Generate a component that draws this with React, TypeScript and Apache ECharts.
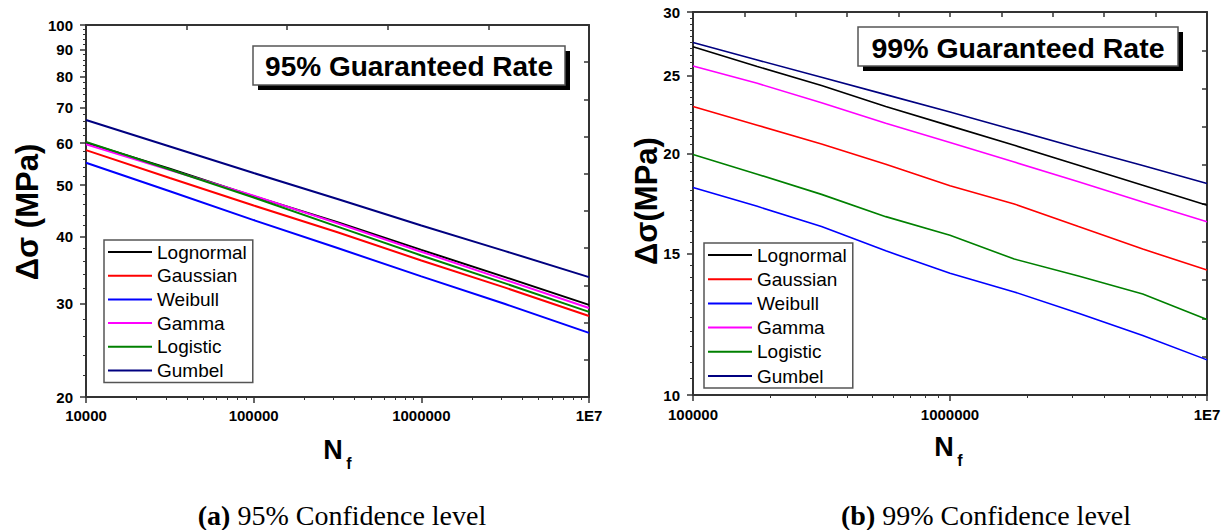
import React, { useEffect, useRef } from "react";
import * as echarts from "echarts";

// ---------- data ----------
const seriesNames = ["Lognormal", "Gaussian", "Weibull", "Gamma", "Logistic", "Gumbel"];
const seriesColors = ["#000000", "#ff0000", "#0000ff", "#ff00ff", "#008000", "#000080"];

// (a) 95% guaranteed rate
const nLeft = [10000, 31623, 100000, 316228, 1000000, 3162278, 10000000];
const left95Lognormal = [60.1, 53.7, 47.7, 42.6, 37.8, 33.6, 29.8];
const left95Gaussian = [58.2, 51.6, 45.8, 40.8, 36.1, 32.1, 28.4];
const left95Weibull = [55.1, 48.7, 43.0, 38.1, 33.7, 29.9, 26.4];
const left95Gamma = [59.7, 53.4, 47.8, 42.4, 37.5, 33.2, 29.4];
const left95Logistic = [60.3, 53.5, 47.4, 41.8, 36.9, 32.7, 28.9];
const left95Gumbel = [66.3, 59.1, 52.7, 47.1, 42.0, 37.6, 33.6];

// (b) 99% guaranteed rate
const nRight = [100000, 177828, 316228, 562341, 1000000, 1778279, 3162278, 5623413, 10000000];
const right99Lognormal = [27.16, 25.66, 24.29, 22.87, 21.64, 20.47, 19.33, 18.25, 17.23];
const right99Gaussian = [22.87, 21.68, 20.55, 19.38, 18.22, 17.3, 16.21, 15.2, 14.31];
const right99Weibull = [18.13, 17.18, 16.21, 15.12, 14.18, 13.44, 12.64, 11.86, 11.06];
const right99Gamma = [25.7, 24.45, 23.13, 21.8, 20.63, 19.51, 18.43, 17.4, 16.44];
const right99Logistic = [19.94, 18.84, 17.78, 16.68, 15.81, 14.77, 14.07, 13.36, 12.42];
const right99Gumbel = [27.48, 26.14, 24.88, 23.67, 22.52, 21.39, 20.31, 19.31, 18.34];

// ---------- ticks ----------
const leftXTicks = [10000, 100000, 1000000, 10000000];
const leftXLabels = ["10000", "100000", "1000000", "1E7"];
const rightXTicks = [100000, 1000000, 10000000];
const rightXLabels = ["100000", "1000000", "1E7"];
const leftYTicks = [20, 30, 40, 50, 60, 70, 80, 90, 100];
const leftYLabels = ["20", "30", "40", "50", "60", "70", "80", "90", "100"];
const rightYTicks = [10, 15, 20, 25, 30];
const rightYLabels = ["10", "15", "20", "25", "30"];

const titleLeft = "95% Guaranteed Rate";
const titleRight = "99% Guaranteed Rate";
const yTitleLeft = "Δσ (MPa)";
const yTitleRight = "Δσ(MPa)";

function logMinor(from: number, to: number): number[] {
  const out: number[] = [];
  for (let d = from; d < to; d *= 10) {
    for (let k = 2; k <= 9; k++) out.push(d * k);
  }
  return out;
}
function linMinor(min: number, max: number, step: number, major: number[]): number[] {
  const out: number[] = [];
  const n = Math.round((max - min) / step);
  for (let i = 1; i < n; i++) {
    const v = +(min + i * step).toFixed(4);
    if (!major.some((m) => Math.abs(m - v) < 1e-6)) out.push(v);
  }
  return out;
}

const SANS = "Liberation Sans";
const SERIF = "Liberation Serif";
const AXIS_COLOR = "#333";

function pickLabel(ticks: number[], labels: string[]) {
  return (v: number) => {
    const i = ticks.findIndex((t) => Math.abs(t - v) / t < 1e-6);
    return i >= 0 ? labels[i] : "";
  };
}

function mainLogAxis(gridIndex: number, position: string, min: number, max: number, ticks: number[], labels: string[], margin: number) {
  return {
    type: "log",
    logBase: 10,
    gridIndex,
    position,
    min,
    max,
    axisLine: { show: true, lineStyle: { color: AXIS_COLOR, width: 2 } },
    axisTick: { show: true, inside: false, length: 6, customValues: ticks, lineStyle: { color: AXIS_COLOR, width: 1.5 } },
    axisLabel: {
      show: true,
      customValues: ticks,
      formatter: pickLabel(ticks, labels),
      fontSize: 15,
      fontWeight: "bold",
      fontFamily: SANS,
      color: "#000",
      margin,
    },
    splitLine: { show: false },
    minorTick: { show: false },
  };
}

function minorLogAxis(gridIndex: number, position: string, min: number, max: number, ticks: number[]) {
  return {
    type: "log",
    logBase: 10,
    gridIndex,
    position,
    min,
    max,
    axisLine: { show: false },
    axisTick: { show: true, inside: false, length: 3, customValues: ticks, lineStyle: { color: AXIS_COLOR, width: 1 } },
    axisLabel: { show: false },
    splitLine: { show: false },
  };
}

function mirrorAxis(gridIndex: number, position: string, count: number) {
  return {
    type: "value",
    gridIndex,
    position,
    min: 0,
    max: count,
    interval: 1,
    axisLine: { show: true, lineStyle: { color: AXIS_COLOR, width: 2 } },
    axisTick: { show: true, inside: true, length: 5, lineStyle: { color: AXIS_COLOR, width: 1.5 } },
    axisLabel: { show: false },
    splitLine: { show: false },
  };
}

function makeSeries(xs: number[], ys: number[][], axisIndex: number, width: number) {
  return seriesNames.map((name, i) => ({
    name,
    type: "line",
    xAxisIndex: axisIndex,
    yAxisIndex: axisIndex,
    symbol: "none",
    smooth: false,
    data: xs.map((x, j) => [x, ys[i][j]]),
    lineStyle: { color: seriesColors[i], width },
    itemStyle: { color: seriesColors[i] },
  }));
}

function legendFor(left: number, top: number, gap: number) {
  return {
    data: seriesNames,
    orient: "vertical",
    left,
    top,
    icon: "rect",
    itemWidth: 44,
    itemHeight: 2,
    itemGap: gap,
    padding: [2, 6, 2, 4],
    borderColor: "#555",
    borderWidth: 1.5,
    backgroundColor: "#fff",
    selectedMode: false,
    textStyle: { fontSize: 19, fontFamily: SANS, color: "#000", lineHeight: 20, height: 20 },
  };
}

function titleBox(x: number, y: number, w: number, h: number, text: string, fontSize: number) {
  return {
    type: "group",
    children: [
      { type: "rect", shape: { x: x + 5, y: y + 5, width: w, height: h }, style: { fill: "#000" }, z: 10 },
      { type: "rect", shape: { x, y, width: w, height: h }, style: { fill: "#fff", stroke: "#555", lineWidth: 1.5 }, z: 11 },
      {
        type: "text",
        x: x + w / 2,
        y: y + h / 2 + 1,
        style: { text, fill: "#000", font: `bold ${fontSize}px "${SANS}"`, align: "center", verticalAlign: "middle" },
        z: 12,
      },
    ],
  };
}

function nfLabel(cx: number, cy: number) {
  return {
    type: "group",
    children: [
      { type: "text", x: cx - 4, y: cy, style: { text: "N", fill: "#000", font: `bold 27px "${SANS}"`, align: "center", verticalAlign: "middle" } },
      { type: "text", x: cx + 12, y: cy + 13, style: { text: "f", fill: "#000", font: `bold 16px "${SANS}"`, align: "center", verticalAlign: "middle" } },
    ],
  };
}

function yTitle(cx: number, cy: number, text: string) {
  return {
    type: "text",
    x: cx,
    y: cy,
    rotation: Math.PI / 2,
    style: { text, fill: "#000", font: `bold 31px "${SANS}"`, align: "center", verticalAlign: "middle" },
  };
}

function caption(cx: number, cy: number, tag: string, rest: string) {
  return {
    type: "text",
    x: cx,
    y: cy,
    style: {
      text: `{b|${tag}}{n| ${rest}}`,
      align: "center",
      verticalAlign: "middle",
      fill: "#000",
      rich: {
        b: { fontFamily: SERIF, fontWeight: "bold", fontSize: 28, fill: "#000" },
        n: { fontFamily: SERIF, fontSize: 28, fill: "#000" },
      },
    },
  };
}

export default function App() {
  const ref = useRef<HTMLDivElement>(null);
  useEffect(() => {
    if (!ref.current) return;
    const chart = echarts.init(ref.current, null, { renderer: "svg" });
    const leftYs = [left95Lognormal, left95Gaussian, left95Weibull, left95Gamma, left95Logistic, left95Gumbel];
    const rightYs = [right99Lognormal, right99Gaussian, right99Weibull, right99Gamma, right99Logistic, right99Gumbel];
    const option: any = {
      animation: false,
      backgroundColor: "#fff",
      grid: [
        { left: 86, top: 25, width: 503, height: 372 },
        { left: 693, top: 12, width: 514, height: 383 },
      ],
      xAxis: [
        mainLogAxis(0, "bottom", 10000, 10000000, leftXTicks, leftXLabels, 11),
        minorLogAxis(0, "bottom", 10000, 10000000, logMinor(10000, 10000000)),
        mirrorAxis(0, "top", 5),
        mainLogAxis(1, "bottom", 100000, 10000000, rightXTicks, rightXLabels, 12),
        minorLogAxis(1, "bottom", 100000, 10000000, logMinor(100000, 10000000)),
        mirrorAxis(1, "top", 10),
      ],
      yAxis: [
        mainLogAxis(0, "left", 20, 100, leftYTicks, leftYLabels, 13),
        minorLogAxis(0, "left", 20, 100, linMinor(20, 100, 2, leftYTicks)),
        mirrorAxis(0, "right", 10),
        mainLogAxis(1, "left", 10, 30, rightYTicks, rightYLabels, 13),
        minorLogAxis(1, "left", 10, 30, linMinor(10, 30, 0.5, rightYTicks)),
        mirrorAxis(1, "right", 10),
      ],
      legend: [legendFor(104, 240, 3.7), legendFor(704, 243, 4.2)],
      series: [...makeSeries(nLeft, leftYs, 0, 2), ...makeSeries(nRight, rightYs, 3, 1.6)],
      graphic: [
        titleBox(253, 46, 312, 39, titleLeft, 28),
        titleBox(858, 27, 320, 39, titleRight, 28.5),
        nfLabel(337, 450),
        nfLabel(948, 447),
        yTitle(27, 212, yTitleLeft),
        yTitle(646, 201, yTitleRight),
        caption(342, 515, "(a)", "95% Confidence level"),
        caption(986, 515, "(b)", "99% Confidence level"),
      ],
    };
    chart.setOption(option);
    return () => chart.dispose();
  }, []);
  return <div ref={ref} style={{ position: "absolute", left: 0, top: 0, width: 1229, height: 530 }} />;
}
